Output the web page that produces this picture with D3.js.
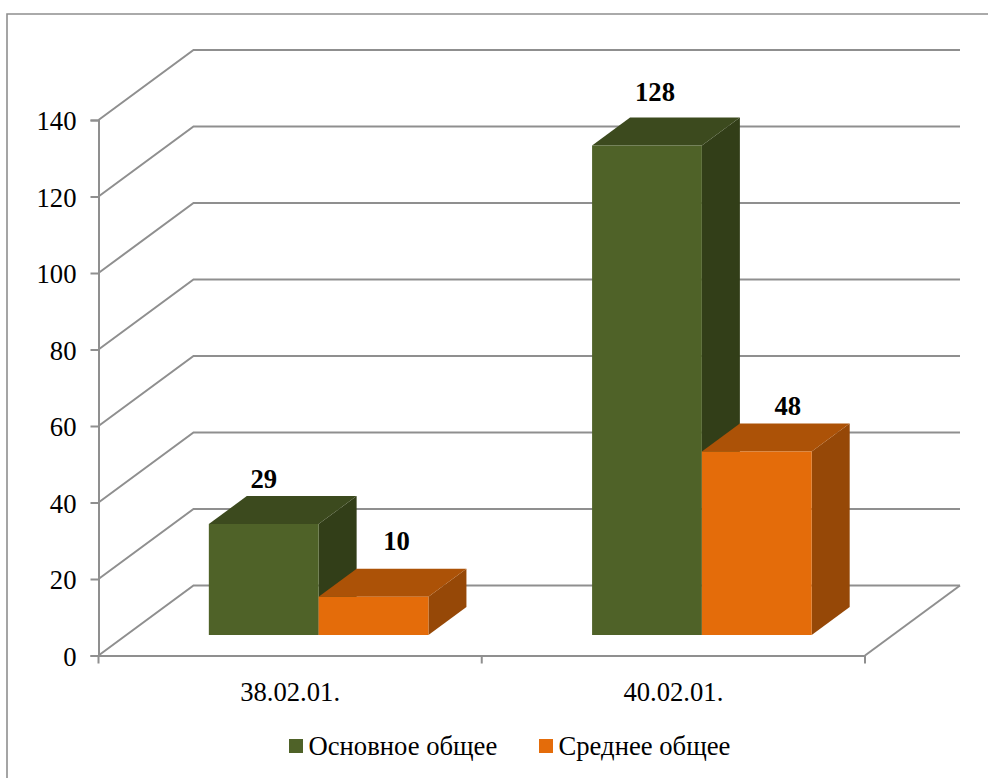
<!DOCTYPE html>
<html>
<head>
<meta charset="utf-8">
<script src="https://cdn.jsdelivr.net/npm/d3@7"></script>
<style>
  html, body { margin: 0; padding: 0; background: #fff; }
  svg { display: block; }
</style>
</head>
<body>
<svg id="chart"></svg>
<script>
const categories = ['38.02.01.', '40.02.01.']
const seriesNames = ['Основное общее', 'Среднее общее']
const seriesValues = [
  [29, 128],
  [10, 48]
]
const yTicks = [0, 20, 40, 60, 80, 100, 120, 140]

const faceColors = ['#4f6228', '#e46c0a']
const topColors = ['#3c4a1e', '#ac5207']
const sideColors = ['#323e18', '#964807']
const gridColor = '#8f8f8f'

const fontFamily = "'Liberation Serif', 'Times New Roman', Tinos, serif"
const fontSize = 26.67

const width = 988
const height = 778

const svg = d3.select('#chart').attr('width', width).attr('height', height)

// frame, no right or bottom side visible in the crop
svg.append('path')
  .attr('d', `M7,${height}V14H${width}`)
  .attr('fill', 'none')
  .attr('stroke', gridColor)
  .attr('stroke-width', 1.6)

const xScale = d3.scaleBand().domain(categories).range([98.5, 865])
const yScale = d3.scaleLinear().domain([0, 140]).range([655.5, 120])

// depth of the floor in screen px
const depthX = 95
const depthY = -70
const project = (x, v, z) => [x + z * depthX, yScale(v) + z * depthY]

const barZ0 = 0.293
const barZ1 = 0.693
const barOffset = 82.5
const barWidth = 109.8

// gridlines: front-left up to the back wall, then along the wall
const gridLine = d3.line()
const grid = svg.append('g')
grid.selectAll('path')
  .data(yTicks)
  .join('path')
  .attr('d', d => gridLine([
    project(xScale.range()[0], d, 0),
    project(xScale.range()[0], d, 1),
    project(xScale.range()[1], d, 1)
  ]))
  .attr('fill', 'none')
  .attr('stroke', gridColor)
  .attr('stroke-width', 2)

// right edge of the floor
grid.append('path')
  .attr('d', gridLine([project(xScale.range()[1], 0, 0), project(xScale.range()[1], 0, 1)]))
  .attr('stroke', gridColor)
  .attr('stroke-width', 2)

// axes
const yAxis = d3.axisLeft(yScale).tickValues(yTicks).tickSize(8).tickPadding(14)
const yG = svg.append('g').attr('transform', 'translate(98.5,0)').call(yAxis)
yG.selectAll('text').attr('y', 1)

const xAxis = d3.axisBottom(xScale).tickSize(0).tickPadding(27)
const xG = svg.append('g').attr('transform', 'translate(0,655.5)').call(xAxis)

// the band scale has no ticks on its edges, so add them by hand from its range
const xEdges = [xScale.range()[0], xScale(categories[1]), xScale.range()[1]]
xG.selectAll('.edge')
  .data(xEdges)
  .join('line')
  .attr('class', 'edge')
  .attr('x1', d => d).attr('x2', d => d)
  .attr('y1', 0).attr('y2', 8)
  .attr('stroke', gridColor)
  .attr('stroke-width', 2)

for (const g of [yG, xG]) {
  g.attr('font-family', fontFamily).attr('font-size', fontSize)
  g.selectAll('.domain, .tick line').attr('stroke', gridColor).attr('stroke-width', 2)
  g.selectAll('text').attr('fill', '#000')
}

// bars
const polygon = pts => 'M' + pts.map(p => p.join(',')).join('L') + 'Z'
const bars = []
seriesNames.forEach((name, s) => {
  categories.forEach((cat, c) => {
    bars.push({ s, c, value: seriesValues[s][c], x0: xScale(cat) + barOffset + s * barWidth })
  })
})

const barG = svg.append('g').selectAll('g')
  .data(bars)
  .join('g')

barG.append('path')
  .attr('d', d => polygon([
    project(d.x0 + barWidth, 0, barZ0), project(d.x0 + barWidth, 0, barZ1),
    project(d.x0 + barWidth, d.value, barZ1), project(d.x0 + barWidth, d.value, barZ0)
  ]))
  .attr('fill', d => sideColors[d.s])

barG.append('path')
  .attr('d', d => polygon([
    project(d.x0, d.value, barZ0), project(d.x0 + barWidth, d.value, barZ0),
    project(d.x0 + barWidth, d.value, barZ1), project(d.x0, d.value, barZ1)
  ]))
  .attr('fill', d => topColors[d.s])

barG.append('path')
  .attr('d', d => polygon([
    project(d.x0, 0, barZ0), project(d.x0 + barWidth, 0, barZ0),
    project(d.x0 + barWidth, d.value, barZ0), project(d.x0, d.value, barZ0)
  ]))
  .attr('fill', d => faceColors[d.s])

// the value labels were dragged by hand in the original, so each has its own nudge
const labelNudgeX = [[0, 8], [23, 31]]
const labelNudgeY = [[-8, -16], [-19, -8]]
barG.append('text')
  .attr('x', d => project(d.x0 + barWidth / 2, 0, barZ0)[0] + labelNudgeX[d.s][d.c])
  .attr('y', d => project(d.x0, d.value, barZ1)[1] + labelNudgeY[d.s][d.c])
  .attr('text-anchor', 'middle')
  .attr('font-family', fontFamily)
  .attr('font-size', fontSize)
  .attr('font-weight', 'bold')
  .text(d => d.value)

// legend
const legendX = [289, 539]
const legend = svg.append('g').selectAll('g')
  .data(seriesNames)
  .join('g')
  .attr('transform', (d, i) => `translate(${legendX[i]},739)`)
legend.append('rect')
  .attr('width', 14).attr('height', 14)
  .attr('fill', (d, i) => faceColors[i])
legend.append('text')
  .attr('x', 19.5).attr('y', 16)
  .attr('font-family', fontFamily)
  .attr('font-size', fontSize)
  .text(d => d)
</script>
</body>
</html>
